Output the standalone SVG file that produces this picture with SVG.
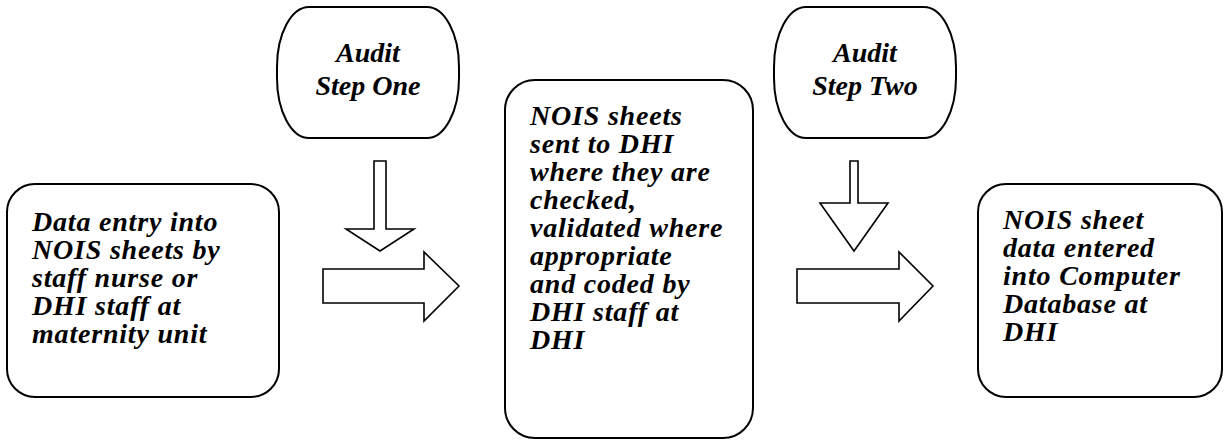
<svg xmlns="http://www.w3.org/2000/svg" width="1225" height="440" viewBox="0 0 1225 440">
<style>
.box{fill:#fff;stroke:#000;stroke-width:2}
.arrow{fill:#fff;stroke:#000;stroke-width:1.6;stroke-linejoin:miter}
.t{font-family:"Liberation Serif","Times New Roman",serif;font-weight:bold;font-style:italic;font-size:28px;letter-spacing:0.8px;fill:#000}
.a{font-family:"Liberation Serif","Times New Roman",serif;font-weight:bold;font-style:italic;font-size:28px;fill:#000;text-anchor:middle}
</style>
<rect width="1225" height="440" fill="#fff"/>
<g id="node-data-entry">
<rect class="box" x="7" y="184" width="272" height="213" rx="28" ry="28"/>
<text class="t"><tspan x="32" y="231">Data entry into</tspan><tspan x="32" y="259">NOIS sheets by</tspan><tspan x="32" y="287">staff nurse or</tspan><tspan x="32" y="315">DHI staff at</tspan><tspan x="32" y="343">maternity unit</tspan></text>
</g>
<g id="node-audit-one">
<rect class="box" x="277" y="7" width="182" height="131" rx="32" ry="60"/>
<text class="a"><tspan x="368" y="62">Audit</tspan><tspan x="368" y="95">Step One</tspan></text>
</g>
<g id="node-sent-dhi">
<rect class="box" x="505" y="80" width="248" height="358" rx="30" ry="30"/>
<text class="t"><tspan x="530" y="125">NOIS sheets</tspan><tspan x="530" y="153">sent to DHI</tspan><tspan x="530" y="181">where they are</tspan><tspan x="530" y="209">checked,</tspan><tspan x="530" y="237">validated where</tspan><tspan x="530" y="265">appropriate</tspan><tspan x="530" y="293">and coded by</tspan><tspan x="530" y="321">DHI staff at</tspan><tspan x="530" y="349">DHI</tspan></text>
</g>
<g id="node-audit-two">
<rect class="box" x="774" y="7" width="182" height="131" rx="32" ry="60"/>
<text class="a"><tspan x="865" y="62">Audit</tspan><tspan x="865" y="95">Step Two</tspan></text>
</g>
<g id="node-database">
<rect class="box" x="978" y="184" width="244" height="213" rx="28" ry="28"/>
<text class="t"><tspan x="1003" y="229">NOIS sheet</tspan><tspan x="1003" y="257">data entered</tspan><tspan x="1003" y="285">into Computer</tspan><tspan x="1003" y="313">Database at</tspan><tspan x="1003" y="341">DHI</tspan></text>
</g>
<g id="connectors">
<path class="arrow" d="M374,161 H386 V229 H414 L380,251 L346,229 H374 Z"/>
<path class="arrow" d="M323,269 H424 V252 L459,286 L424,321 V303 H323 Z"/>
<path class="arrow" d="M850,161 H858 V203 H888 L854,251 L820,203 H850 Z"/>
<path class="arrow" d="M797,269 H899 V252 L933,286 L899,321 V303 H797 Z"/>
</g>
</svg>
